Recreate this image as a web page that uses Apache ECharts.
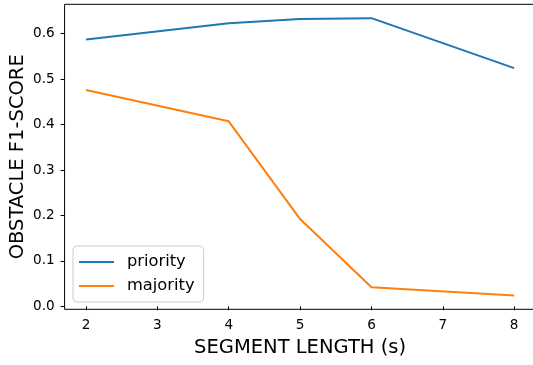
<!DOCTYPE html>
<html>
<head>
<meta charset="utf-8">
<script src="https://cdn.jsdelivr.net/npm/echarts@6/dist/echarts.min.js"></script>
<style>
  html, body { margin: 0; padding: 0; background: #fff; }
  #chart { width: 533px; height: 365px; }
</style>
</head>
<body>
<div id="chart"></div>
<script>
const segmentLength = [2, 4, 5, 6, 8];
const priority = [0.587, 0.623, 0.632, 0.634, 0.524];
const majority = [0.476, 0.407, 0.192, 0.042, 0.024];
const xTicks = [2, 3, 4, 5, 6, 7, 8];
const yTicks = [0, 0.1, 0.2, 0.3, 0.4, 0.5, 0.6];

const font = 'DejaVu Sans';
const chart = echarts.init(document.getElementById('chart'));

chart.setOption({
  animation: false,
  textStyle: { fontFamily: font },
  grid: {
    left: 64.6, top: 4.3, width: 471, height: 305,
    outerBoundsMode: 'none', containLabel: false,
    show: true, borderColor: '#000', borderWidth: 1, backgroundColor: 'transparent'
  },
  legend: {
    left: 73, top: 246,
    orient: 'vertical',
    data: ['priority', 'majority'],
    icon: 'rect',
    itemWidth: 35, itemHeight: 2,
    itemGap: 8,
    padding: [8, 9, 8, 6],
    backgroundColor: 'rgba(255,255,255,0.8)',
    borderColor: '#ccc', borderWidth: 1, borderRadius: 4,
    textStyle: { fontFamily: font, fontSize: 16.3, color: '#000', padding: [0, 0, 0, 8] }
  },
  xAxis: {
    type: 'value', min: 1.7, max: 8.3,
    name: 'SEGMENT LENGTH (s)', nameLocation: 'middle', nameGap: 29,
    nameMoveOverlap: false,
    nameTextStyle: { fontFamily: font, fontSize: 19.5, color: '#000' },
    axisLine: { show: false },
    splitLine: { show: false },
    axisTick: { show: true, customValues: xTicks, length: 4, lineStyle: { color: '#000' } },
    axisLabel: { customValues: xTicks, fontSize: 13.6, color: '#000', margin: 9 }
  },
  yAxis: {
    type: 'value', min: -0.0065, max: 0.6645,
    name: 'OBSTACLE F1-SCORE', nameLocation: 'middle', nameGap: 37,
    nameMoveOverlap: false,
    nameTextStyle: { fontFamily: font, fontSize: 19.5, color: '#000' },
    axisLine: { show: false },
    splitLine: { show: false },
    axisTick: { show: true, customValues: yTicks, length: 4, lineStyle: { color: '#000' } },
    axisLabel: { customValues: yTicks, fontSize: 13.6, color: '#000', margin: 10,
      formatter: v => v.toFixed(1) }
  },
  series: [
    {
      name: 'priority', type: 'line', showSymbol: false,
      data: segmentLength.map((x, i) => [x, priority[i]]),
      itemStyle: { color: '#1f77b4' },
      lineStyle: { color: '#1f77b4', width: 2 }
    },
    {
      name: 'majority', type: 'line', showSymbol: false,
      data: segmentLength.map((x, i) => [x, majority[i]]),
      itemStyle: { color: '#ff7f0e' },
      lineStyle: { color: '#ff7f0e', width: 2 }
    }
  ]
});
</script>
</body>
</html>
